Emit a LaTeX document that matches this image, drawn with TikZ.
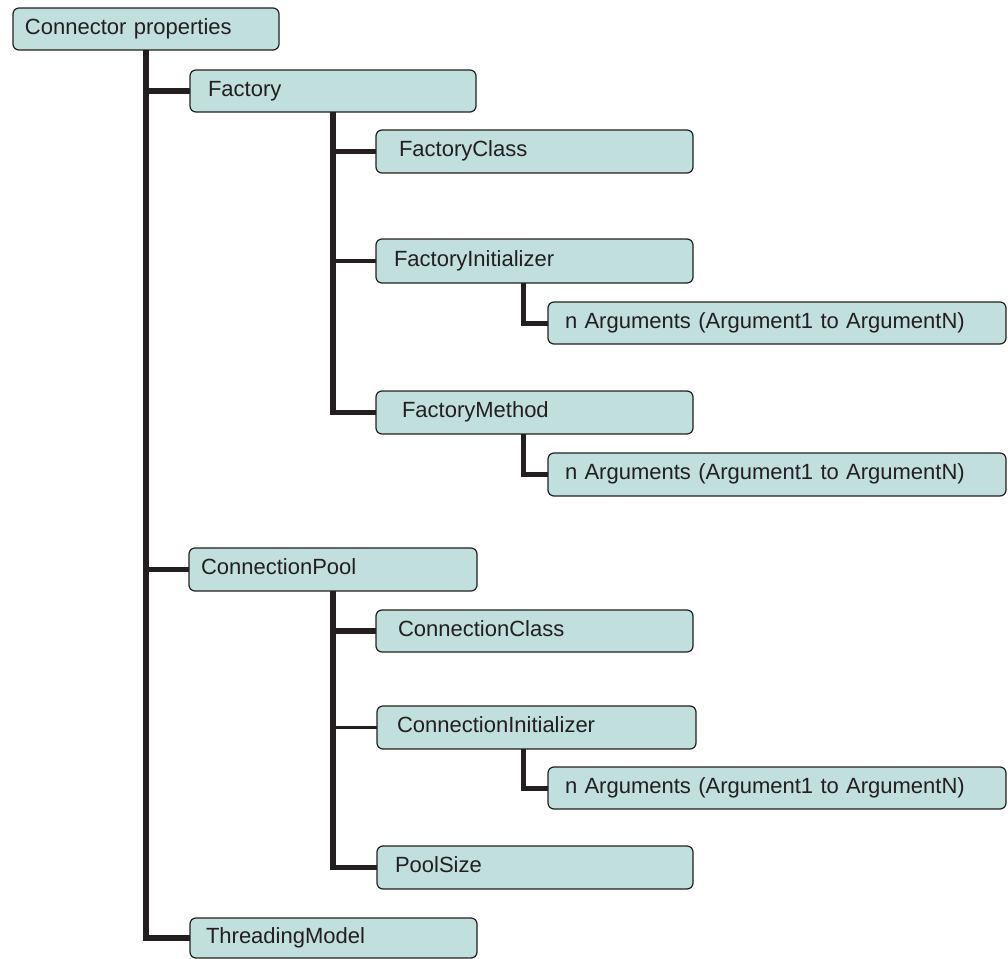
\documentclass[tikz,border=0pt]{standalone}
\usepackage{fontspec}
\setmainfont{Liberation Sans}
\definecolor{boxfill}{RGB}{192,223,221}
\definecolor{ink}{RGB}{35,31,32}
\tikzset{
  box/.style={draw=ink, line width=0.6pt, fill=boxfill, rounded corners=3pt,
    anchor=north west, outer sep=0pt, align=left, text=ink,
    text height=8pt, text depth=3pt, inner ysep=0pt,
    font=\fontsize{11pt}{13pt}\selectfont},
  heavy/.style={draw=ink, line width=2.8pt, line join=miter},
  sub/.style={draw=ink, line width=2.5pt, line join=miter},
  light/.style={draw=ink, line width=1.8pt},
}
\begin{document}
\begin{tikzpicture}[x=0.5pt, y=-0.5pt]
\useasboundingbox (0,0) rectangle (1008,959);
% nodes
\node[box, minimum width=133pt, minimum height=21pt, inner xsep=6pt, text width=121pt] (root) at (13,8) {Connector properties};
\node[box, minimum width=143pt, minimum height=21pt, inner xsep=9pt, text width=125pt] (factory) at (190,70) {Factory};
\node[box, minimum width=158.5pt, minimum height=21.5pt, inner xsep=11.5pt, text width=135.5pt] (fclass) at (376,130) {FactoryClass};
\node[box, minimum width=158.5pt, minimum height=22pt, inner xsep=9pt, text width=140.5pt] (finit) at (376,239) {FactoryInitializer};
\node[box, minimum width=229pt, minimum height=21pt, inner xsep=8.5pt, text width=212pt] (fargs1) at (548,302) {n Arguments (Argument1 to ArgumentN)};
\node[box, minimum width=158.5pt, minimum height=21.5pt, inner xsep=13pt, text width=132.5pt] (fmethod) at (376,391) {FactoryMethod};
\node[box, minimum width=229pt, minimum height=21.5pt, inner xsep=8.5pt, text width=212pt] (fargs2) at (548,453) {n Arguments (Argument1 to ArgumentN)};
\node[box, minimum width=144pt, minimum height=21.5pt, inner xsep=6pt, text width=132pt] (cpool) at (189,548) {ConnectionPool};
\node[box, minimum width=158.5pt, minimum height=21pt, inner xsep=11pt, text width=136.5pt] (cclass) at (376,610) {ConnectionClass};
\node[box, minimum width=159.5pt, minimum height=21.5pt, inner xsep=10pt, text width=139.5pt] (cinit) at (377,706) {ConnectionInitializer};
\node[box, minimum width=229pt, minimum height=21pt, inner xsep=8.5pt, text width=212pt] (cargs) at (548,767) {n Arguments (Argument1 to ArgumentN)};
\node[box, minimum width=158pt, minimum height=21.5pt, inner xsep=9pt, text width=140pt] (poolsize) at (377,846) {PoolSize};
\node[box, minimum width=143.5pt, minimum height=20pt, inner xsep=8pt, text width=127.5pt] (threading) at (190,918) {ThreadingModel};
% main trunk
\draw[heavy] (root.south) |- (threading.west);
\draw[heavy] (root.south |- factory.west) -- (factory.west);
\draw[heavy] (root.south |- cpool.west) -- (cpool.west);
% factory subtree
\draw[heavy] (factory.south) |- (fmethod.west);
\draw[heavy] (factory.south |- fclass.west) -- (fclass.west);
\draw[light] (factory.south |- finit.west) -- (finit.west);
\path (finit.south -| fargs1.west) ++(-12.5pt,0) coordinate (fi);
\draw[sub] (fi) |- (fargs1.west);
\path (fmethod.south -| fargs2.west) ++(-12.5pt,0) coordinate (fm);
\draw[sub] (fm) |- (fargs2.west);
% connection pool subtree
\draw[heavy] (cpool.south) |- (poolsize.west);
\draw[heavy] (cpool.south |- cclass.west) -- (cclass.west);
\draw[light] (cpool.south |- cinit.west) -- (cinit.west);
\path (cinit.south -| cargs.west) ++(-12.5pt,0) coordinate (ci);
\draw[sub] (ci) |- (cargs.west);
\end{tikzpicture}
\end{document}
